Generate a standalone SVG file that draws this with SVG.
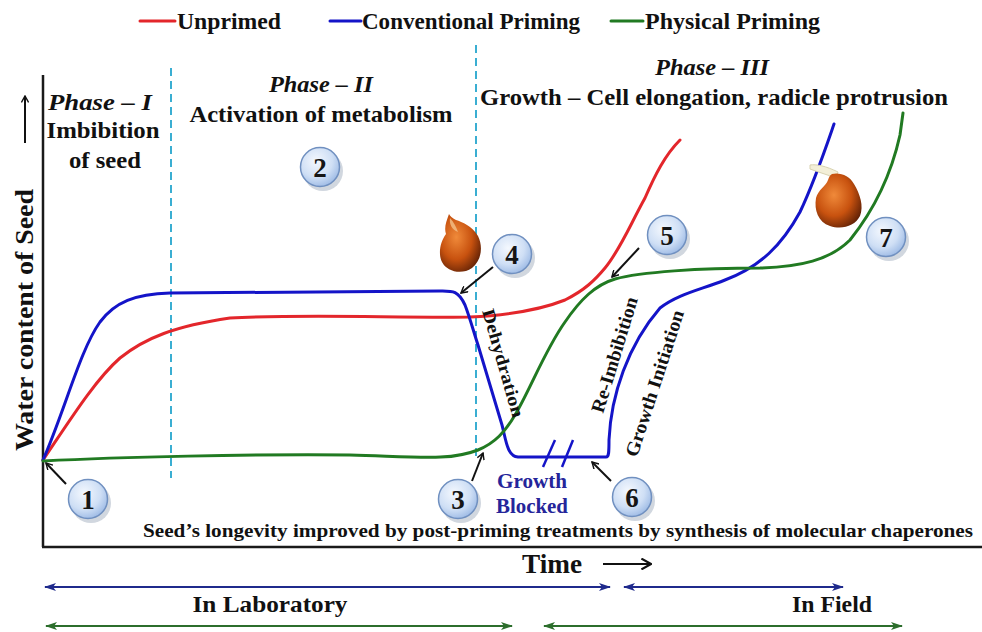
<svg xmlns="http://www.w3.org/2000/svg" width="982" height="632" viewBox="0 0 982 632">
  <defs>
    <style>
      .t { font-family: "Liberation Serif", "Times New Roman", serif; font-weight: bold; fill: #111; }
      .it { font-style: italic; }
      .curve { fill: none; stroke-width: 3; stroke-linecap: round; stroke-linejoin: round; }
      .red { stroke: #e3262b; }
      .blue { stroke: #1414c8; }
      .green { stroke: #217a22; }
      .phase { stroke: #3aaed2; stroke-width: 2; stroke-dasharray: 8 5; fill: none; }
      .axis { stroke: #1a1a1a; stroke-width: 2.5; fill: none; }
      .ptr { stroke: #111; stroke-width: 2; fill: none; marker-end: url(#vhead); }
      .num circle.face { fill: url(#bubble); stroke: #7090c0; stroke-width: 1.5; }
      .num circle.shade { fill: #9aa6b8; opacity: 0.45; }
      .num text { font-family: "Liberation Serif", "Times New Roman", serif; font-weight: bold; font-size: 27px; fill: #151515; text-anchor: middle; }
      .span-b { stroke: #1f2a8c; stroke-width: 2; marker-start: url(#hb); marker-end: url(#hb); }
      .span-g { stroke: #2c6e2c; stroke-width: 2; marker-start: url(#hg); marker-end: url(#hg); }
      .blk { fill: #25259a; }
    </style>
    <radialGradient id="bubble" cx="0.4" cy="0.35" r="0.7">
      <stop offset="0" stop-color="#f4f8fe"/>
      <stop offset="0.6" stop-color="#cfdff5"/>
      <stop offset="1" stop-color="#9ab8e4"/>
    </radialGradient>
    <radialGradient id="seedFill" cx="0.4" cy="0.4" r="0.7">
      <stop offset="0" stop-color="#f08a3a"/>
      <stop offset="0.55" stop-color="#c8520f"/>
      <stop offset="1" stop-color="#5a1e05"/>
    </radialGradient>
    <marker id="vhead" viewBox="0 0 10 10" refX="9" refY="5" markerWidth="8" markerHeight="8" orient="auto" markerUnits="userSpaceOnUse">
      <path d="M1,0.5 L9,5 L1,9.5" fill="none" stroke="#111" stroke-width="1.8"/>
    </marker>
    <marker id="hb" viewBox="0 0 12 8" refX="11" refY="4" markerWidth="12" markerHeight="8" orient="auto-start-reverse" markerUnits="userSpaceOnUse">
      <path d="M0,0 L12,4 L0,8 L3,4 Z" fill="#1f2a8c"/>
    </marker>
    <marker id="hg" viewBox="0 0 12 8" refX="11" refY="4" markerWidth="12" markerHeight="8" orient="auto-start-reverse" markerUnits="userSpaceOnUse">
      <path d="M0,0 L12,4 L0,8 L3,4 Z" fill="#2c6e2c"/>
    </marker>
    <marker id="timehead" viewBox="0 0 10 10" refX="9" refY="5" markerWidth="12" markerHeight="12" orient="auto" markerUnits="userSpaceOnUse">
      <path d="M1,0.5 L9,5 L1,9.5" fill="none" stroke="#111" stroke-width="1.8"/>
    </marker>
  </defs>

  <rect width="982" height="632" fill="#ffffff"/>

  <!-- legend -->
  <g id="legend">
    <line x1="140" y1="21" x2="175" y2="21" class="curve red"/>
    <text class="t" x="177" y="29" font-size="24" textLength="104" lengthAdjust="spacingAndGlyphs">Unprimed</text>
    <line x1="330" y1="21" x2="361" y2="21" class="curve blue"/>
    <text class="t" x="362" y="29" font-size="24" textLength="218" lengthAdjust="spacingAndGlyphs">Conventional Priming</text>
    <line x1="611" y1="21" x2="643" y2="21" class="curve green"/>
    <text class="t" x="645" y="29" font-size="24" textLength="175" lengthAdjust="spacingAndGlyphs">Physical Priming</text>
  </g>

  <!-- axes -->
  <g id="axes">
    <line x1="43" y1="75" x2="43" y2="547" class="axis"/>
    <line x1="42" y1="547" x2="982" y2="547" class="axis"/>
    <line x1="25" y1="143" x2="25" y2="96" stroke="#111" stroke-width="2" marker-end="url(#vhead)"/>
    <text class="t" font-size="25" text-anchor="middle" transform="translate(33,320) rotate(-90)" textLength="262" lengthAdjust="spacingAndGlyphs">Water content of Seed</text>
    <text class="t" x="522" y="573" font-size="27" textLength="60" lengthAdjust="spacingAndGlyphs">Time</text>
    <line x1="603" y1="564" x2="651" y2="564" stroke="#111" stroke-width="2" marker-end="url(#timehead)"/>
  </g>

  <!-- phase boundaries -->
  <g id="phases">
    <line x1="171" y1="68" x2="171" y2="478" class="phase"/>
    <line x1="476" y1="45" x2="476" y2="458" class="phase"/>
  </g>

  <!-- phase headings -->
  <g id="phase-1">
    <text class="t it" x="100" y="110" font-size="24" text-anchor="middle" textLength="104" lengthAdjust="spacingAndGlyphs">Phase – I</text>
    <text class="t" x="103" y="138" font-size="24" text-anchor="middle" textLength="113" lengthAdjust="spacingAndGlyphs">Imbibition</text>
    <text class="t" x="105" y="168" font-size="24" text-anchor="middle" textLength="72" lengthAdjust="spacingAndGlyphs">of seed</text>
  </g>
  <g id="phase-2">
    <text class="t it" x="321" y="92" font-size="24" text-anchor="middle" textLength="104" lengthAdjust="spacingAndGlyphs">Phase – II</text>
    <text class="t" x="321" y="122" font-size="24" text-anchor="middle" textLength="263" lengthAdjust="spacingAndGlyphs">Activation of metabolism</text>
  </g>
  <g id="phase-3">
    <text class="t it" x="712" y="75" font-size="24" text-anchor="middle" textLength="114" lengthAdjust="spacingAndGlyphs">Phase – III</text>
    <text class="t" x="480" y="105" font-size="24" textLength="468" lengthAdjust="spacingAndGlyphs">Growth – Cell elongation, radicle protrusion</text>
  </g>

  <!-- water uptake curves -->
  <g id="connectors">
    <path id="curve-unprimed" class="curve red" d="M43,460 C70,420 95,380 120,358 C145,338 175,326 230,318 C300,314 400,318 470,317 C510,315 540,310 565,300 C585,290 595,280 605,268 C620,250 630,225 645,198 C655,175 665,155 680,140"/>
    <path id="curve-conventional" class="curve blue" d="M43,460 C65,410 80,350 100,322 C115,302 135,294 170,293 L440,291 C452,291 458,290 465,305 C470,318 474,333 478,345 L502,425 C506,440 507,456 518,457 L606,457 C609,457 609,452 609,440 C611,395 628,345 660,308 C678,294 700,290 725,280 C760,267 782,245 800,212 C815,180 825,150 834,124"/>
    <path id="curve-physical" class="curve green" d="M43,461 C120,457 250,454 350,455 C420,457 450,461 478,450 C495,443 505,432 515,415 C530,390 545,350 565,322 C580,300 595,285 615,279 C640,272 700,268 760,268 C800,267 830,260 850,240 C870,215 890,180 900,135 L903,113"/>
    <!-- break marks on the blocked segment -->
    <line x1="543" y1="467" x2="555" y2="440" stroke="#1414c8" stroke-width="2.5"/>
    <line x1="562" y1="467" x2="573" y2="440" stroke="#1414c8" stroke-width="2.5"/>
    <!-- pointers from the numbered markers -->
    <line x1="66" y1="484" x2="46" y2="463" class="ptr"/>
    <line x1="472" y1="481" x2="483" y2="453" class="ptr"/>
    <line x1="493" y1="267" x2="461" y2="293" class="ptr"/>
    <line x1="639" y1="248" x2="612" y2="277" class="ptr"/>
    <line x1="611" y1="481" x2="592" y2="462" class="ptr"/>
  </g>

  <!-- curve labels -->
  <g id="curve-labels">
    <text class="t" font-size="18" transform="translate(482,311) rotate(74)" textLength="112" lengthAdjust="spacingAndGlyphs">Dehydration</text>
    <text class="t" font-size="19" transform="translate(603,414) rotate(-73)" textLength="120" lengthAdjust="spacingAndGlyphs">Re-Imbibition</text>
    <text class="t" font-size="19" transform="translate(637,458) rotate(-72)" textLength="153" lengthAdjust="spacingAndGlyphs">Growth Initiation</text>
    <text class="t blk" x="532" y="488" font-size="20" text-anchor="middle" textLength="70" lengthAdjust="spacingAndGlyphs">Growth</text>
    <text class="t blk" x="532" y="513" font-size="20" text-anchor="middle" textLength="72" lengthAdjust="spacingAndGlyphs">Blocked</text>
  </g>

  <!-- seeds -->
  <g id="seed-dry">
    <path d="M449,214 C446,222 444,228 446,234 C440,242 438,254 442,262 C447,272 462,275 472,268 C482,260 483,246 478,236 C472,226 462,222 456,220 C452,218 450,216 449,214 Z" fill="url(#seedFill)"/>
    <path d="M450,218 C449,224 452,230 458,232 C456,227 454,222 450,218 Z" fill="#f4c28a" opacity="0.8"/>
  </g>
  <g id="seed-germinated">
    <path d="M810,165 C816,164 826,166 838,172 L836,178 C828,175 818,172 810,169 Z" fill="#f3efd8" stroke="#d8d2b0" stroke-width="1"/>
    <path d="M832,174 C840,172 850,176 854,184 C860,194 864,206 860,216 C855,226 842,230 830,226 C818,222 814,210 816,198 C818,190 826,186 828,180 C829,177 830,175 832,174 Z" fill="url(#seedFill)"/>
  </g>

  <!-- numbered markers -->
  <g id="n1" class="num"><circle class="shade" cx="91" cy="503" r="20"/><circle class="face" cx="88" cy="499" r="19.5"/><text x="88" y="509">1</text></g>
  <g id="n2" class="num"><circle class="shade" cx="323" cy="171" r="20"/><circle class="face" cx="320" cy="167" r="19.5"/><text x="320" y="177">2</text></g>
  <g id="n3" class="num"><circle class="shade" cx="461" cy="503" r="20"/><circle class="face" cx="458" cy="499" r="19.5"/><text x="458" y="509">3</text></g>
  <g id="n4" class="num"><circle class="shade" cx="515" cy="258" r="20"/><circle class="face" cx="512" cy="254" r="19.5"/><text x="512" y="264">4</text></g>
  <g id="n5" class="num"><circle class="shade" cx="670" cy="239" r="20"/><circle class="face" cx="667" cy="235" r="19.5"/><text x="667" y="245">5</text></g>
  <g id="n6" class="num"><circle class="shade" cx="635" cy="501" r="20"/><circle class="face" cx="632" cy="497" r="19.5"/><text x="632" y="507">6</text></g>
  <g id="n7" class="num"><circle class="shade" cx="889" cy="241" r="20"/><circle class="face" cx="886" cy="237" r="19.5"/><text x="886" y="247">7</text></g>

  <!-- footnote inside plot -->
  <text class="t" x="143" y="537" font-size="19" textLength="830" lengthAdjust="spacingAndGlyphs">Seed’s longevity improved by post-priming treatments by synthesis of molecular chaperones</text>

  <!-- setting spans -->
  <g id="spans">
    <line x1="45" y1="587" x2="610" y2="587" class="span-b"/>
    <line x1="624" y1="587" x2="843" y2="587" class="span-b"/>
    <line x1="46" y1="626" x2="512" y2="626" class="span-g"/>
    <line x1="544" y1="626" x2="902" y2="626" class="span-g"/>
    <text class="t" x="270" y="612" font-size="23" text-anchor="middle" textLength="155" lengthAdjust="spacingAndGlyphs">In Laboratory</text>
    <text class="t" x="832" y="612" font-size="23" text-anchor="middle" textLength="80" lengthAdjust="spacingAndGlyphs">In Field</text>
  </g>
</svg>
